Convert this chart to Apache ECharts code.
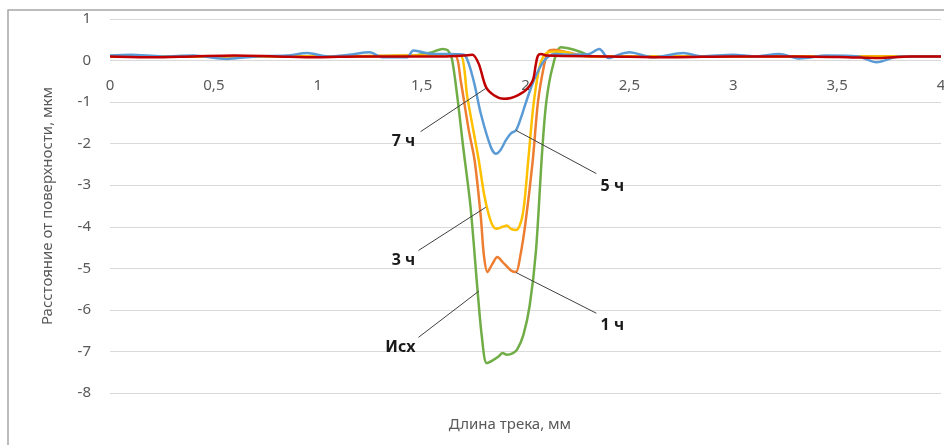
<!DOCTYPE html>
<html>
<head>
<meta charset="utf-8">
<script src="https://cdn.jsdelivr.net/npm/echarts@6/dist/echarts.min.js"></script>
<style>
  html, body { margin: 0; padding: 0; background: #fff; }
  #chart { width: 944px; height: 445px; }
</style>
</head>
<body>
<div id="chart"></div>
<script>
// профили трека, [длина мм, глубина мкм]
var ishData = [
  [0, 0.1], [0.5, 0.1], [1.0, 0.1], [1.45, 0.12], [1.55, 0.2], [1.6, 0.28], [1.625, 0.25],
  [1.645, 0.06], [1.672, -0.88], [1.70, -2.08], [1.735, -3.5], [1.77, -5.58], [1.79, -6.65],
  [1.813, -7.28], [1.84, -7.22], [1.87, -7.12], [1.89, -7.04], [1.91, -7.08], [1.94, -7.04],
  [1.96, -6.95], [1.99, -6.6], [2.02, -5.9], [2.05, -4.6], [2.08, -2.2], [2.10, -1.0],
  [2.13, -0.16], [2.17, 0.32], [2.22, 0.28], [2.27, 0.2], [2.32, 0.1], [2.6, 0.1], [3.0, 0.1], [4.0, 0.1]
]
var h1Data = [
  [0, 0.1], [0.5, 0.1], [1.0, 0.1], [1.5, 0.12], [1.62, 0.14], [1.664, 0.12], [1.688, -0.48],
  [1.727, -1.68], [1.755, -2.4], [1.785, -3.77], [1.80, -4.7], [1.817, -5.09], [1.84, -4.9],
  [1.865, -4.73], [1.89, -4.85], [1.93, -5.05], [1.954, -5.09], [1.975, -4.7], [2.0, -3.9],
  [2.035, -2.4], [2.06, -1.0], [2.09, -0.1], [2.11, 0.22], [2.14, 0.26], [2.2, 0.2],
  [2.27, 0.12], [2.35, 0.1], [2.6, 0.1], [3.0, 0.1], [4.0, 0.1]
]
var h3Data = [
  [0, 0.1], [0.5, 0.1], [1.0, 0.1], [1.5, 0.12], [1.65, 0.13], [1.69, 0.12], [1.72, -0.88],
  [1.775, -2.4], [1.80, -3.2], [1.82, -3.65], [1.84, -3.95], [1.86, -4.05], [1.89, -4.0],
  [1.91, -3.97], [1.93, -4.05], [1.955, -4.08], [1.98, -3.85], [1.995, -3.4], [2.015, -2.3],
  [2.04, -1.0], [2.07, -0.1], [2.1, 0.18], [2.14, 0.22], [2.2, 0.2], [2.25, 0.12],
  [2.35, 0.1], [2.6, 0.1], [3.0, 0.1], [4.0, 0.1]
]
var h5Data = [
  [0, 0.12], [0.1, 0.14], [0.25, 0.1], [0.4, 0.12], [0.56, 0.04], [0.7, 0.1], [0.85, 0.12],
  [0.95, 0.18], [1.05, 0.1], [1.15, 0.14], [1.25, 0.2], [1.31, 0.08], [1.43, 0.08], [1.46, 0.24],
  [1.55, 0.16], [1.68, 0.15], [1.71, 0.12], [1.75, -0.48], [1.785, -1.28], [1.833, -2.08],
  [1.857, -2.24], [1.88, -2.15], [1.905, -1.92], [1.93, -1.75], [1.954, -1.68], [1.98, -1.35],
  [2.0, -1.04], [2.04, -0.48], [2.09, 0.0], [2.14, 0.16], [2.2, 0.14], [2.3, 0.15], [2.355, 0.28],
  [2.4, 0.06], [2.46, 0.16], [2.5, 0.2], [2.61, 0.08], [2.76, 0.18], [2.85, 0.1], [3.0, 0.14],
  [3.1, 0.1], [3.22, 0.16], [3.32, 0.05], [3.45, 0.12], [3.6, 0.1], [3.69, -0.04], [3.8, 0.1], [4.0, 0.1]
]
var h7Data = [
  [0, 0.1], [0.2, 0.08], [0.4, 0.1], [0.6, 0.12], [0.8, 0.1], [1.0, 0.08], [1.2, 0.1],
  [1.4, 0.1], [1.6, 0.1], [1.7, 0.12], [1.744, 0.14], [1.775, -0.08], [1.81, -0.64],
  [1.85, -0.84], [1.896, -0.92], [1.93, -0.9], [1.962, -0.84], [2.0, -0.72], [2.035, -0.48],
  [2.05, -0.08], [2.06, 0.12], [2.075, 0.16], [2.1, 0.12], [2.4, 0.1], [2.7, 0.08],
  [3.0, 0.1], [3.3, 0.1], [3.55, 0.08], [3.7, 0.06], [3.85, 0.1], [4.0, 0.1]
]

var seriesNames = ['Исх', '1 ч', '3 ч', '5 ч', '7 ч']
var seriesColors = ['#70ad47', '#ed7d31', '#ffc000', '#5b9bd5', '#c00000']
var seriesData = [ishData, h1Data, h3Data, h5Data, h7Data]
// подписи: положение текста и выносная линия (от, до) в координатах графика
var labelPos = [[1.398, -6.9], [2.418, -6.37], [1.413, -4.81], [2.418, -3.03], [1.413, -1.95]]
var leaderFrom = [[1.485, -6.66], [2.341, -6.08], [1.485, -4.57], [2.341, -2.72], [1.495, -1.71]]
var leaderTo = [[1.775, -5.55], [1.954, -5.10], [1.809, -3.53], [1.954, -1.68], [1.809, -0.67]]

var xTicks = { min: 0, max: 4, step: 0.5 }
var yTicks = { min: -8, max: 1, step: 1 }

var font = "'Noto Sans', 'Open Sans', sans-serif"
var chart = echarts.init(document.getElementById('chart'))

var series = seriesNames.map(function (name, i) {
  return {
    name: name,
    type: 'line',
    data: seriesData[i],
    smooth: 0.3,
    showSymbol: false,
    lineStyle: { color: seriesColors[i], width: 2.5 },
    itemStyle: { color: seriesColors[i] },
    markLine: {
      silent: true,
      symbol: 'none',
      label: { show: false },
      lineStyle: { color: '#404040', width: 1, type: 'solid' },
      data: [[{ coord: leaderFrom[i] }, { coord: leaderTo[i] }]]
    },
    markPoint: {
      silent: true,
      symbol: 'circle',
      symbolSize: 0,
      label: {
        show: true,
        position: 'inside',
        formatter: '{b}',
        color: '#1a1a1a',
        fontWeight: 'bold',
        fontSize: 16,
        fontFamily: font
      },
      data: [{ name: name, coord: labelPos[i] }]
    }
  }
})

// второй grid только для подписей оси X: его нижний край совпадает с нулём
var plotTop = 19
var plotBottom = 52
var zeroY = plotTop + (445 - plotTop - plotBottom) * (yTicks.max / (yTicks.max - yTicks.min))

chart.setOption({
  animation: false,
  grid: [
    { left: 110, right: 3, top: plotTop, bottom: plotBottom, outerBoundsMode: 'none' },
    { left: 110, right: 3, top: plotTop, height: zeroY - plotTop, outerBoundsMode: 'none' }
  ],
  graphic: [
    {
      type: 'rect',
      shape: { x: 8, y: 10, width: 1200, height: 1000 },
      style: { fill: 'none', stroke: '#a6a6a6', lineWidth: 1.5 },
      z: -1
    },
    {
      type: 'text',
      x: 510,
      y: 425,
      style: {
        text: 'Длина трека, мм',
        fill: '#595959',
        font: '15px ' + font,
        textAlign: 'center',
        textVerticalAlign: 'middle'
      }
    }
  ],
  xAxis: [
    {
      type: 'value',
      gridIndex: 0,
      min: xTicks.min,
      max: xTicks.max,
      interval: xTicks.step,
      axisLine: { show: false },
      axisTick: { show: false },
      splitLine: { show: false },
      axisLabel: { show: false }
    },
    {
      type: 'value',
      gridIndex: 1,
      position: 'bottom',
      min: xTicks.min,
      max: xTicks.max,
      interval: xTicks.step,
      axisLine: { show: false, onZero: false },
      axisTick: { show: false },
      splitLine: { show: false },
      axisLabel: {
        margin: 18,
        color: '#595959',
        fontSize: 15,
        fontFamily: font,
        formatter: function (v) { return String(v).replace('.', ',') }
      }
    }
  ],
  yAxis: [
    {
      type: 'value',
      gridIndex: 0,
      min: yTicks.min,
      max: yTicks.max,
      interval: yTicks.step,
      name: 'Расстояние от поверхности, мкм',
      nameLocation: 'middle',
      nameGap: 55,
      nameTextStyle: { color: '#595959', fontSize: 15, fontFamily: font },
      axisLine: { show: false },
      axisTick: { show: false },
      splitLine: { lineStyle: { color: '#d9d9d9', width: 1 } },
      axisLabel: { margin: 19, color: '#595959', fontSize: 15, fontFamily: font }
    },
    {
      type: 'value',
      gridIndex: 1,
      min: 0,
      max: 1,
      show: false
    }
  ],
  series: series
})
</script>
</body>
</html>
